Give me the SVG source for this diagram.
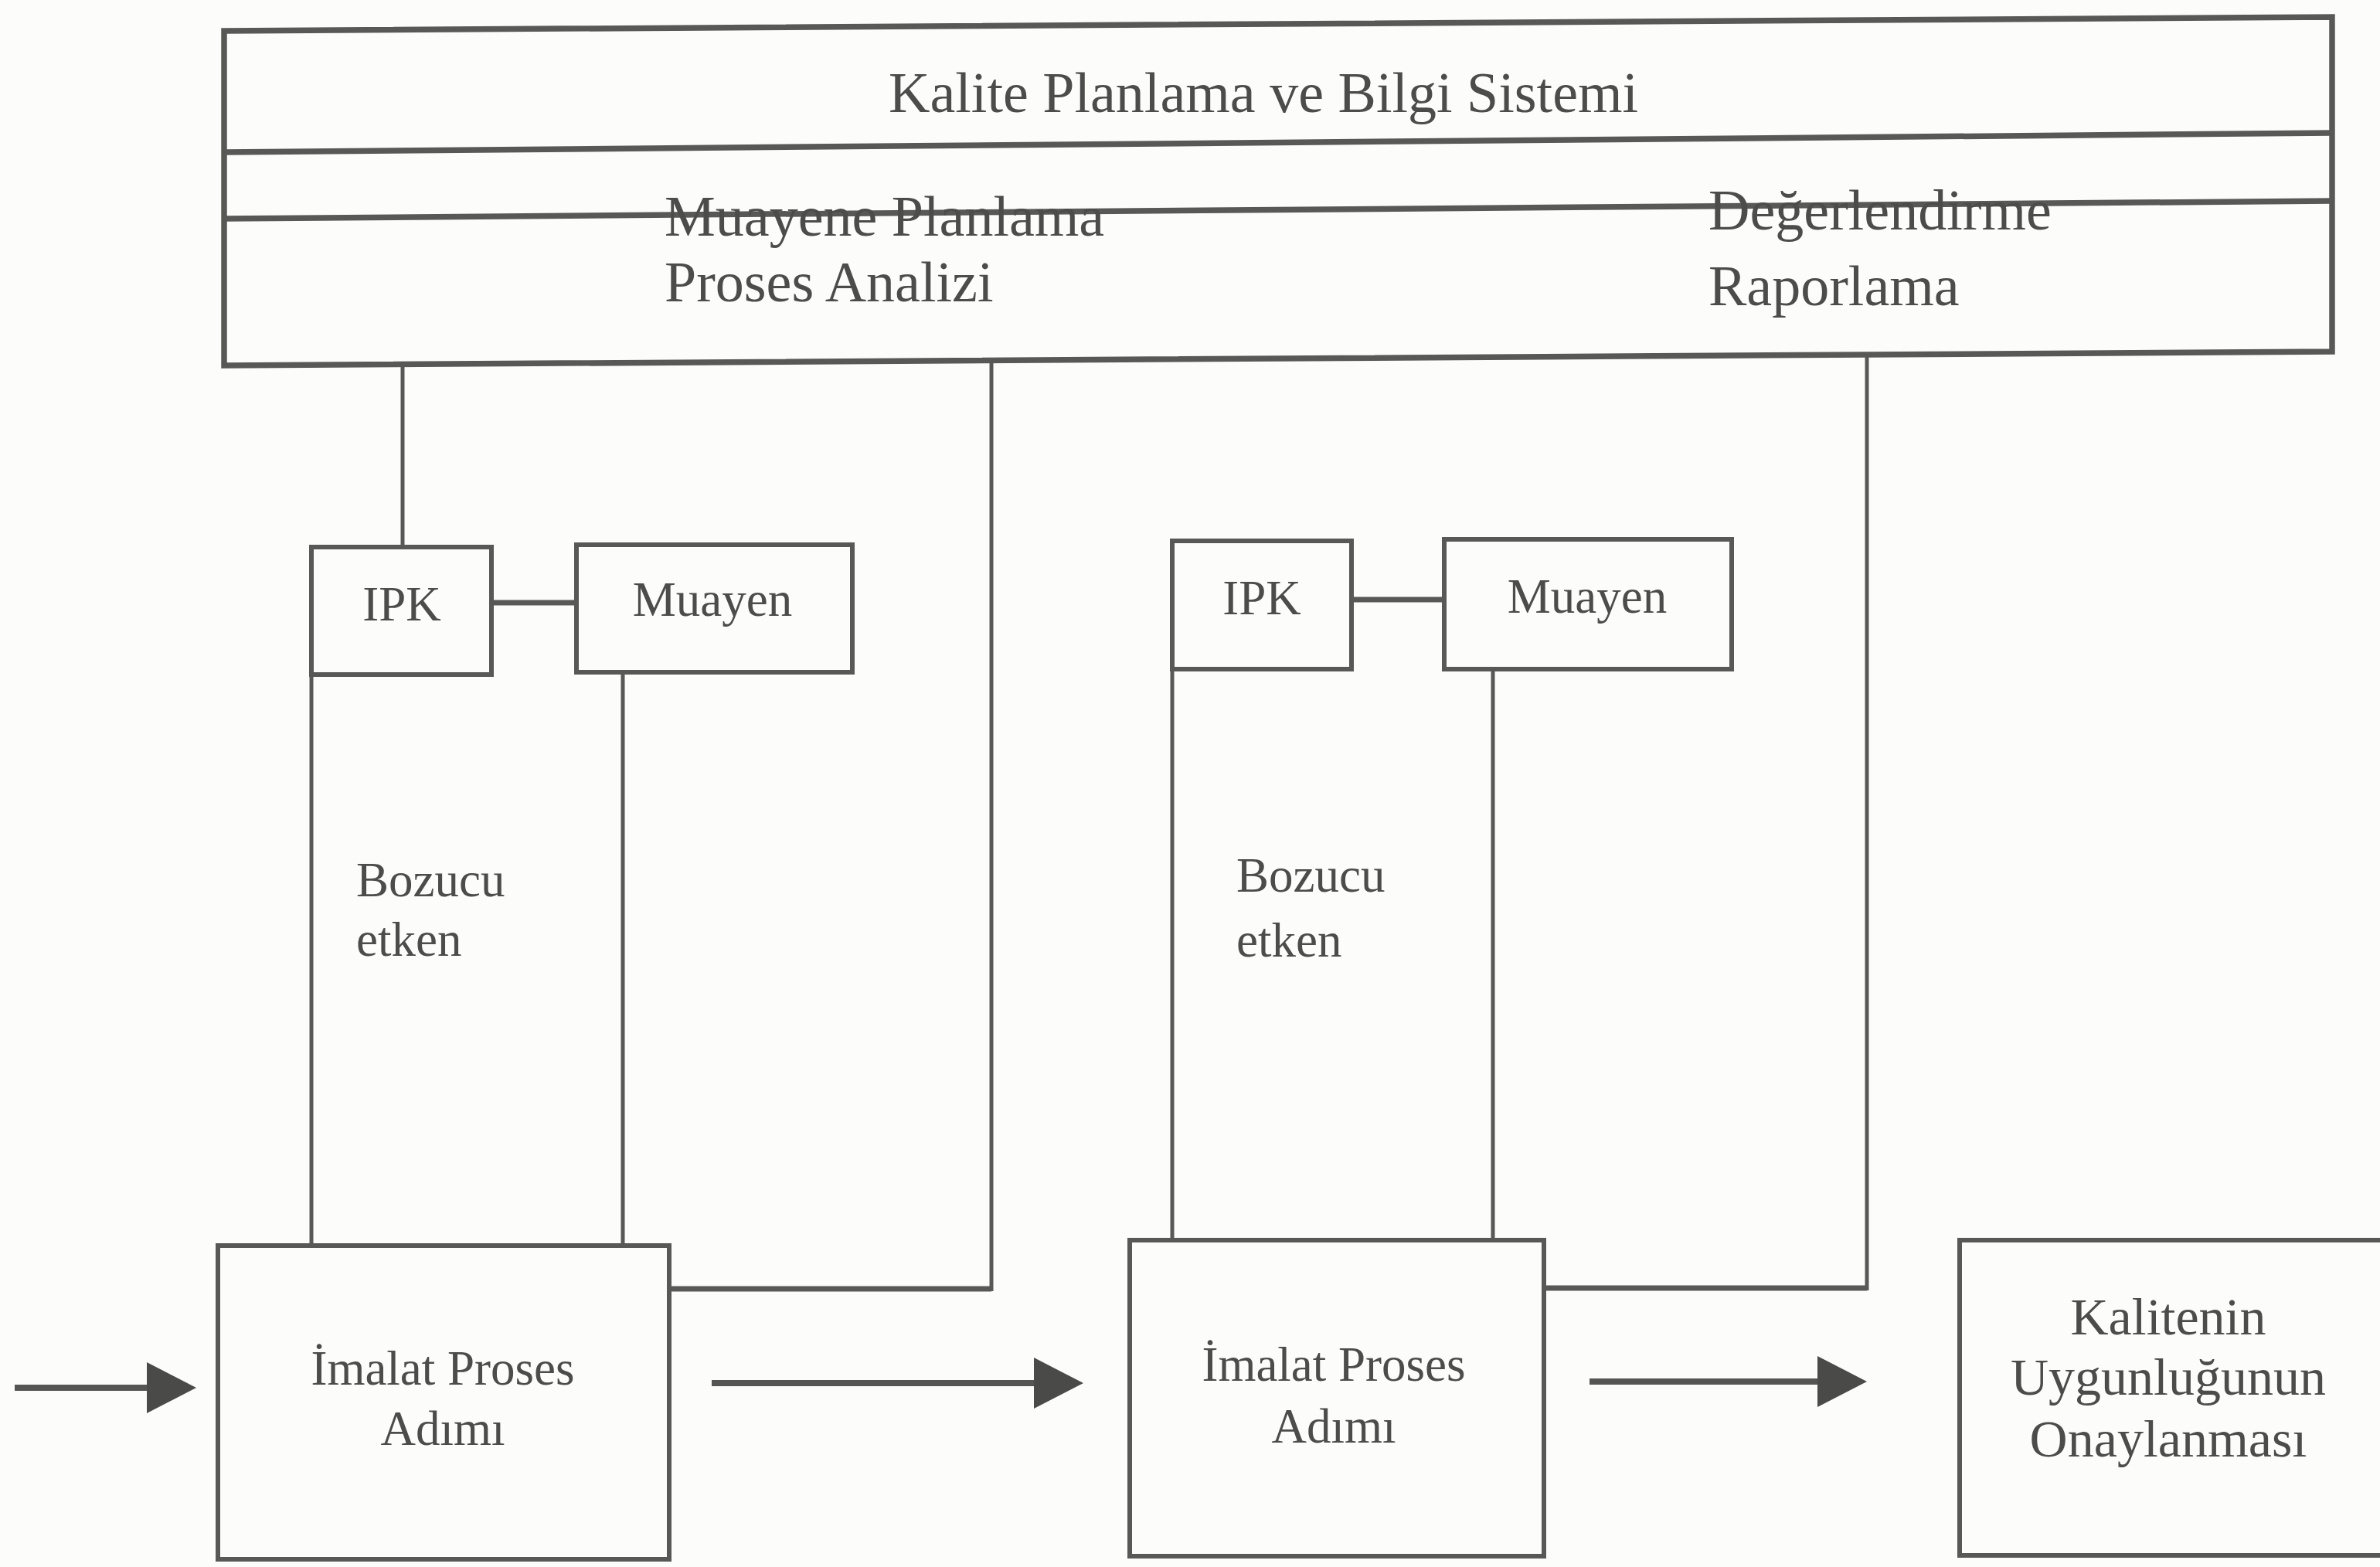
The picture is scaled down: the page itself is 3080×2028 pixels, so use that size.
<svg xmlns="http://www.w3.org/2000/svg" width="3080" height="2028" viewBox="0 0 3080 2028">
<style>
.bg{fill:#fcfcfa}
.box{fill:none;stroke:#585856;stroke-width:6}
.top{fill:none;stroke:#585856;stroke-width:7.5}
.ln{fill:none;stroke:#585856;stroke-width:5}
.hl{fill:none;stroke:#585856;stroke-width:7}
.arr{fill:none;stroke:#555553;stroke-width:8}
text{font-family:"Liberation Serif","Times New Roman",serif;fill:#4c4c4a}
.t1{font-size:74px}
.t2{font-size:74px}
.t3{font-size:63px}
.t4{font-size:68px}
.c{text-anchor:middle}
</style>
<defs>
<marker id="ah" markerUnits="userSpaceOnUse" markerWidth="66" markerHeight="70" viewBox="0 0 66 70" refX="10" refY="35" orient="auto">
<path d="M0,2 L64,35 L0,68 Z" fill="#4a4a48"/>
</marker>
</defs>
<rect class="bg" x="0" y="0" width="3080" height="2028"/>

<g id="kalite-sistemi">
<polygon class="top" points="290,40 3018,22 3018,455 290,473"/>
<line class="top" x1="290" y1="197" x2="3018" y2="172"/>
<line class="top" x1="290" y1="283" x2="3018" y2="260"/>
<text class="t1" x="1150" y="145">Kalite Planlama ve Bilgi Sistemi</text>
<text class="t2" x="860" y="305">Muayene Planlama</text>
<text class="t2" x="860" y="390">Proses Analizi</text>
<text class="t2" x="2211" y="297">Değerlendirme</text>
<text class="t2" x="2211" y="395">Raporlama</text>
</g>

<g id="ipk1">
<rect class="box" x="403" y="708" width="233" height="165"/>
<text class="t3 c" x="520" y="803">IPK</text>
</g>
<g id="muayen1">
<rect class="box" x="746" y="705" width="357" height="165"/>
<text class="t3 c" x="922" y="797">Muayen</text>
</g>
<g id="bozucu1">
<text class="t3" x="461" y="1160">Bozucu</text>
<text class="t3" x="461" y="1237">etken</text>
</g>
<g id="imalat1">
<rect class="box" x="282" y="1612" width="584" height="406"/>
<text class="t3 c" x="573" y="1792">İmalat Proses</text>
<text class="t3 c" x="573" y="1870">Adımı</text>
</g>

<g id="ipk2">
<rect class="box" x="1517" y="700" width="232" height="166"/>
<text class="t3 c" x="1633" y="795">IPK</text>
</g>
<g id="muayen2">
<rect class="box" x="1869" y="698" width="372" height="168"/>
<text class="t3 c" x="2054" y="793">Muayen</text>
</g>
<g id="bozucu2">
<text class="t3" x="1600" y="1154">Bozucu</text>
<text class="t3" x="1600" y="1238">etken</text>
</g>
<g id="imalat2">
<rect class="box" x="1462" y="1605" width="536" height="409"/>
<text class="t3 c" x="1726" y="1787">İmalat Proses</text>
<text class="t3 c" x="1726" y="1867">Adımı</text>
</g>

<g id="onay">
<rect class="box" x="2536" y="1605" width="600" height="408"/>
<text class="t4 c" x="2806" y="1727">Kalitenin</text>
<text class="t4 c" x="2806" y="1805">Uygunluğunun</text>
<text class="t4 c" x="2806" y="1885">Onaylanması</text>
</g>

<g id="connectors">
<line class="ln" x1="521" y1="471" x2="521" y2="708"/>
<line class="hl" x1="636" y1="780" x2="746" y2="780"/>
<line class="ln" x1="403" y1="873" x2="403" y2="1612"/>
<line class="ln" x1="806" y1="870" x2="806" y2="1612"/>
<path class="hl" d="M866,1668 H1283"/>
<line class="ln" x1="1283" y1="1671" x2="1283" y2="466"/>
<line class="arr" x1="19" y1="1796" x2="200" y2="1796" marker-end="url(#ah)"/>
<line class="arr" x1="921" y1="1790" x2="1348" y2="1790" marker-end="url(#ah)"/>
<line class="ln" x1="1517" y1="866" x2="1517" y2="1605"/>
<line class="hl" x1="1749" y1="776" x2="1869" y2="776"/>
<line class="ln" x1="1932" y1="866" x2="1932" y2="1605"/>
<path class="hl" d="M1998,1667 H2416"/>
<line class="ln" x1="2416" y1="1670" x2="2416" y2="457"/>
<line class="arr" x1="2057" y1="1788" x2="2362" y2="1788" marker-end="url(#ah)"/>
</g>
</svg>
